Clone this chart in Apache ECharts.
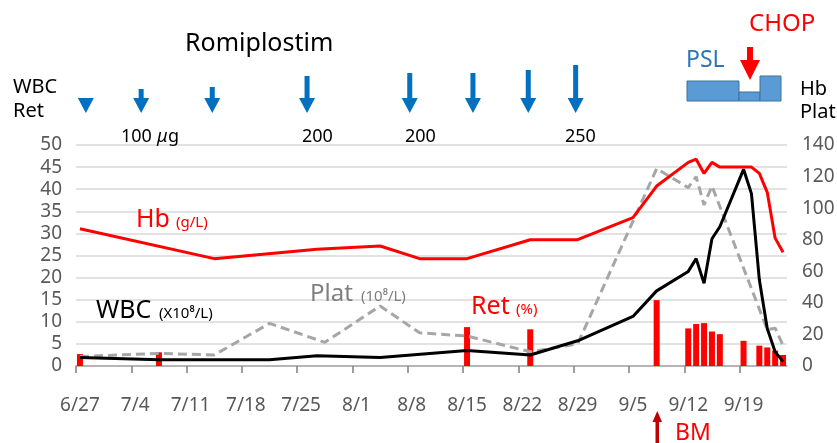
<!DOCTYPE html>
<html>
<head>
<meta charset="utf-8">
<script src="https://cdn.jsdelivr.net/npm/echarts@6/dist/echarts.min.js"></script>
<style>
  html, body { margin: 0; padding: 0; background: #fff; }
  #chart { width: 837px; height: 443px; }
</style>
</head>
<body>
<div id="chart"></div>
<script>
// tick labels on the date axis
const tickDates = ['6/27', '7/4', '7/11', '7/18', '7/25', '8/1', '8/8', '8/15', '8/22', '8/29', '9/5', '9/12', '9/19'];

// Hb (g/L), right axis
const hbDates = ['6/27', '7/14', '7/27', '8/4', '8/9', '8/15', '8/23', '8/29', '9/5', '9/8', '9/12', '9/13', '9/14', '9/15', '9/16', '9/20', '9/21', '9/22', '9/23', '9/24'];
const hbValues = [87, 68, 74, 76, 68, 68, 80, 80, 94, 114, 129, 131, 122, 129, 126, 126, 122, 110, 81, 72];

// WBC (x10^8/L), left axis
const wbcDates = ['6/27', '7/7', '7/21', '7/27', '8/4', '8/15', '8/23', '8/29', '9/5', '9/8', '9/12', '9/13', '9/14', '9/15', '9/16', '9/19', '9/20', '9/21', '9/22', '9/23', '9/24'];
const wbcValues = [1.9, 1.4, 1.4, 2.3, 1.9, 3.5, 2.5, 5.7, 11.2, 17, 21.4, 24.3, 18.7, 28.8, 31.5, 44.5, 39, 19.5, 8.5, 3.2, 1.0];

// Plat (10^8/L), right axis
const platDates = ['6/27', '7/7', '7/14', '7/21', '7/28', '8/4', '8/9', '8/15', '8/23', '8/29', '9/8', '9/12', '9/13', '9/14', '9/15', '9/22', '9/23', '9/24'];
const platValues = [6, 8, 7, 27, 15, 38, 21, 19, 9, 14, 125, 113, 120, 102, 114, 23, 24, 13];

// Ret (%), left axis
const retDates = ['6/27', '7/7', '8/15', '8/23', '9/8', '9/12', '9/13', '9/14', '9/15', '9/16', '9/19', '9/21', '9/22', '9/23', '9/24'];
const retValues = [2.7, 3.1, 8.8, 8.3, 14.9, 8.5, 9.5, 9.7, 7.8, 7.2, 5.7, 4.6, 4.2, 3.5, 2.5];

// Romiplostim doses
const romiDates = ['6/28', '7/5', '7/14', '7/26', '8/8', '8/16', '8/23', '8/29'];

const FONT = '"Noto Sans", sans-serif';
const BASE = Date.UTC(2000, 5, 27);
const dayOf = s => {
  const [m, d] = s.split('/').map(Number);
  return (Date.UTC(2000, m - 1, d) - BASE) / 864e5;
};
// points sit in the middle of their day, as in Excel date axes
const slot = s => dayOf(s) + 0.5;
const dateLabel = v => {
  const dt = new Date(BASE + Math.floor(v) * 864e5);
  return (dt.getUTCMonth() + 1) + '/' + dt.getUTCDate();
};
const pairs = (dates, values) => dates.map((d, i) => [slot(d), values[i]]);

const chart = echarts.init(document.getElementById('chart'), null, { renderer: 'canvas' });

const option = {
  animation: false,
  grid: { left: 76, right: 50, top: 145, bottom: 77, containLabel: false, outerBoundsMode: 'none' },
  xAxis: {
    type: 'value',
    min: 0,
    max: 90,
    splitLine: { show: false },
    axisLine: { lineStyle: { color: '#a6a6a6', width: 1.5 } },
    axisTick: { customValues: tickDates.map(dayOf), length: 7, lineStyle: { color: '#7f7f7f', width: 1.5 } },
    axisLabel: {
      customValues: tickDates.map(slot),
      formatter: dateLabel,
      margin: 30,
      fontSize: 19,
      fontFamily: FONT,
      color: '#595959',
    },
  },
  yAxis: [
    {
      type: 'value', min: 0, max: 50, interval: 5,
      axisLine: { show: false }, axisTick: { show: false },
      splitLine: { lineStyle: { color: '#d9d9d9', width: 1.5 } },
      axisLabel: { margin: 14, fontSize: 19, fontFamily: FONT, color: '#595959' },
    },
    {
      type: 'value', min: 0, max: 140, interval: 20,
      axisLine: { show: false }, axisTick: { show: false },
      splitLine: { show: false },
      axisLabel: { margin: 15, fontSize: 19, fontFamily: FONT, color: '#595959' },
    },
  ],
  series: [
    {
      name: 'Plat', type: 'line', yAxisIndex: 1, showSymbol: false,
      lineStyle: { color: '#a6a6a6', width: 3, type: [9, 5] },
      data: pairs(platDates, platValues),
    },
    {
      name: 'Ret', type: 'bar', yAxisIndex: 0, barWidth: 6,
      itemStyle: { color: '#ff0000' },
      data: pairs(retDates, retValues),
    },
    {
      name: 'WBC', type: 'line', yAxisIndex: 0, showSymbol: false,
      lineStyle: { color: '#000000', width: 3 },
      data: pairs(wbcDates, wbcValues),
    },
    {
      name: 'Hb', type: 'line', yAxisIndex: 1, showSymbol: false,
      lineStyle: { color: '#ff0000', width: 3 },
      data: pairs(hbDates, hbValues),
    },
  ],
};

chart.setOption(option);

const txt = (text, x, y, size, fill, extra) => ({
  type: 'text', x, y, silent: true,
  style: Object.assign({ text, fontSize: size, fontFamily: FONT, fill, verticalAlign: 'middle' }, extra || {}),
});

const downArrow = (x, top, headTop, bottom, shaftW, headW, fill) => ({
  type: 'polygon', silent: true,
  shape: {
    points: [
      [x - shaftW / 2, top], [x + shaftW / 2, top], [x + shaftW / 2, headTop], [x + headW / 2, headTop],
      [x, bottom], [x - headW / 2, headTop], [x - shaftW / 2, headTop],
    ],
  },
  style: { fill },
});

// shaft tops of the romiplostim arrows
const romiTops = [98, 89, 87, 76, 73, 73, 70, 65];
const romiArrows = romiDates.map((d, i) => {
  const x = chart.convertToPixel({ xAxisIndex: 0 }, slot(d)) - 2;
  return downArrow(x, romiTops[i], Math.max(98, romiTops[i]), 113, 5, 16, '#0070c0');
});

chart.setOption({
  graphic: [
    txt('Romiplostim', 185, 44, 25, '#000'),
    txt('WBC', 13, 87, 20, '#000'),
    txt('Ret', 13, 111, 20, '#000'),
    txt('Hb', 800, 89, 20, '#000'),
    txt('Plat', 800, 112, 20, '#000'),
    txt('100 ', 121, 137, 18, '#000'),
    txt('\u03bc', 157, 137, 18, '#000', { fontStyle: 'italic' }),
    txt('g', 168, 137, 18, '#000'),
    txt('200', 302, 137, 18, '#000'),
    txt('200', 405, 137, 18, '#000'),
    txt('250', 565, 137, 18, '#000'),
    ...romiArrows,
    txt('PSL', 686, 60, 23, '#2e75b6'),
    { type: 'rect', silent: true, shape: { x: 687, y: 81, width: 52, height: 20 }, style: { fill: '#5b9bd5', stroke: '#41719c', lineWidth: 1 } },
    { type: 'rect', silent: true, shape: { x: 739, y: 92, width: 21, height: 9 }, style: { fill: '#5b9bd5', stroke: '#41719c', lineWidth: 1 } },
    { type: 'rect', silent: true, shape: { x: 760, y: 76, width: 21, height: 25 }, style: { fill: '#5b9bd5', stroke: '#41719c', lineWidth: 1 } },
    txt('CHOP', 749, 24, 24, '#ff0000'),
    downArrow(750, 47, 60, 80, 6, 20, '#ff0000'),
    txt('Hb', 136, 220, 25, '#ff0000'),
    txt('(g/L)', 176, 223, 15, '#ff0000'),
    txt('WBC', 96, 311, 25, '#000'),
    txt('(X10\u2078/L)', 159, 314, 15, '#000'),
    txt('Plat', 310, 294, 24, '#7f7f7f'),
    txt('(10\u2078/L)', 361, 297, 15, '#7f7f7f'),
    txt('Ret', 471, 307, 25, '#ff0000'),
    txt('(%)', 516, 310, 15, '#ff0000'),
    {
      type: 'polygon', silent: true,
      shape: { points: [[655.5, 443], [655.5, 422], [652.5, 422], [657.3, 411], [662, 422], [659, 422], [659, 443]] },
      style: { fill: '#c00000' },
    },
    txt('BM', 675, 433, 23, '#ff0000'),
  ],
});

window.addEventListener('resize', () => chart.resize());
</script>
</body>
</html>
